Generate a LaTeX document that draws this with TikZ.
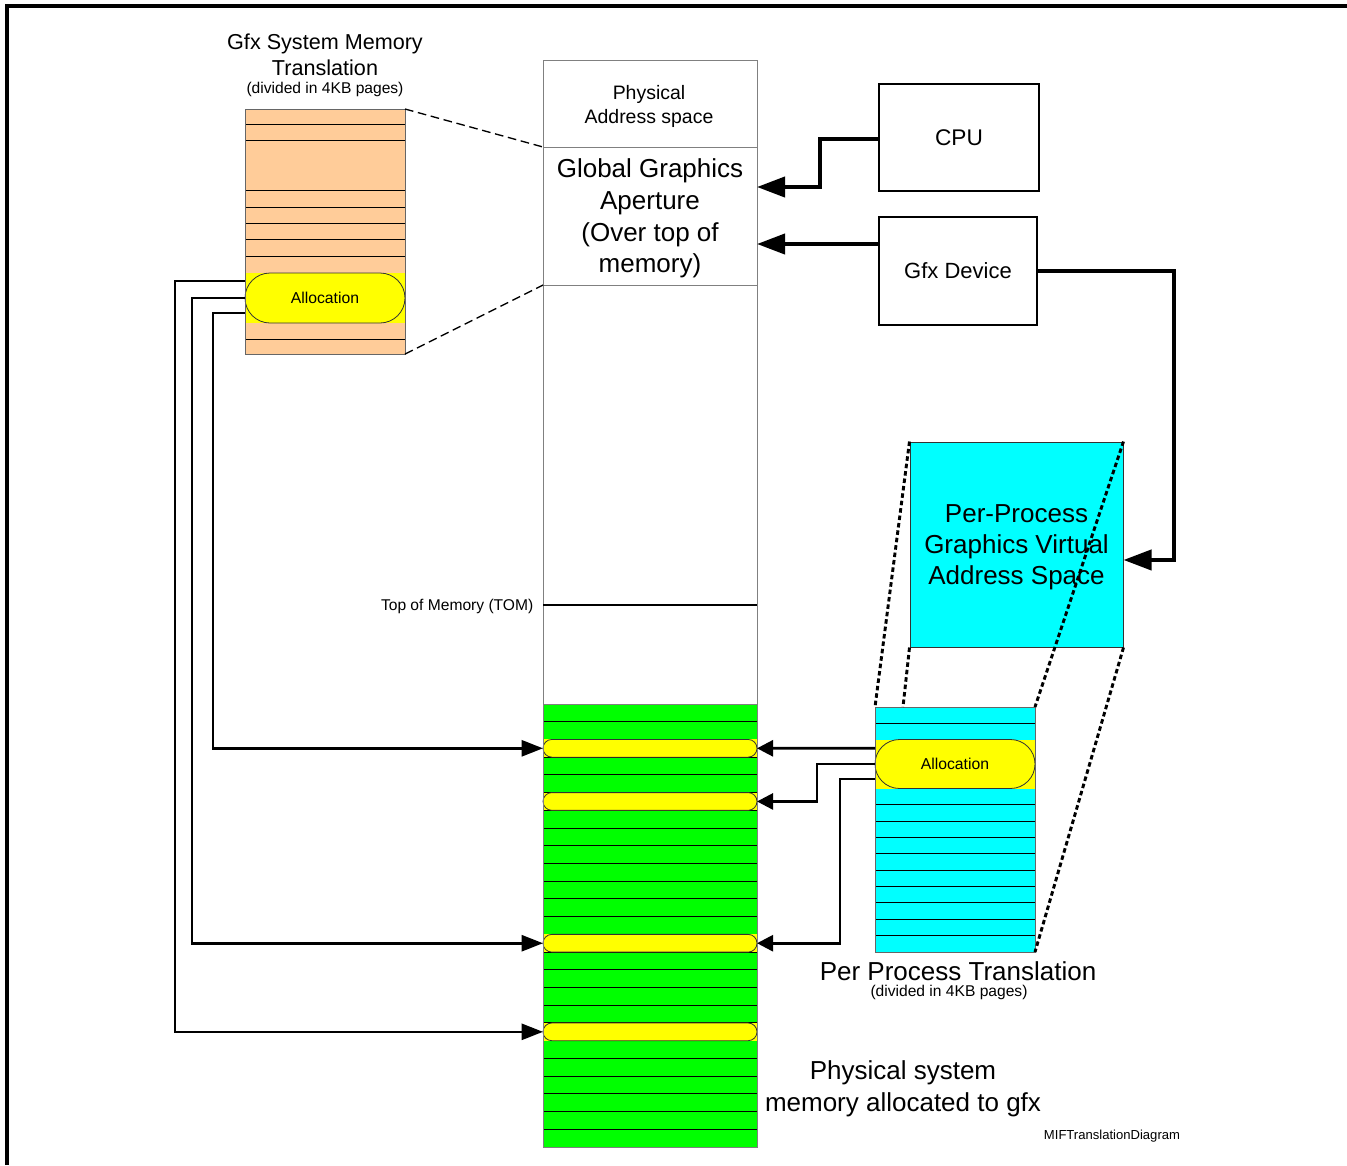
\documentclass[tikz,border=0pt]{standalone}
\usepackage{fontspec}
\setmainfont{Liberation Sans}
\usetikzlibrary{arrows.meta,shapes.misc}
\definecolor{ptepeach}{RGB}{255,204,153}
\definecolor{vacyan}{RGB}{0,255,255}
\definecolor{memgreen}{RGB}{0,255,0}
\definecolor{allocyellow}{RGB}{255,255,0}
\newcommand\pxu{0.75pt}
\begin{document}
\begin{tikzpicture}[x=0.75pt,y=-0.75pt,
  colbox/.style={draw=black!50, line width=0.75pt, inner sep=0pt, outer sep=0pt},
  rowline/.style={line width=0.75pt, draw=black},
  alloc/.style={rounded rectangle, draw=black!80, fill=allocyellow, line width=0.6pt,
    inner sep=0pt, outer sep=0pt, font=\fontsize{11.8}{14}\selectfont},
  devbox/.style={draw, line width=1.5pt, inner sep=0pt},
  bus/.style={line width=3pt, -{Triangle[length=21pt,width=15pt]}},
  map/.style={line width=2pt, -{Triangle[length=16pt,width=12pt]}},
  mapr/.style={line width=2pt, -{Triangle[length=12pt,width=12pt]}},
  span/.style={line width=1pt, dash pattern=on 6.5pt off 3.5pt},
  dotspan/.style={line width=2.2pt, dash pattern=on 3.4pt off 2.2pt},
  bigtxt/.style={font=\fontsize{19.5}{23.8}\selectfont, align=center},
  smalltxt/.style={font=\fontsize{11.7}{14}\selectfont}]
\useasboundingbox (0,0) rectangle (1347,1165);

% frame
\draw[line width=2.4pt] (7,1165) -- (7,6) -- (1347,6);

% GTT: system memory translation table
\node[bigtxt, font=\fontsize{16.2}{19.5}\selectfont] (gtitle) at (325,55) {Gfx System Memory\\Translation};
\node[smalltxt, inner sep=1pt] (gsub) at (325,89) {(divided in 4KB pages)};
\node[colbox, fill=ptepeach, minimum width=160*\pxu, minimum height=245*\pxu] (orng) at (325,231.5) {};
\foreach \y in {124,140,190,207,223,239,256,339}
  \draw[rowline] (245,\y) -- (405,\y);
\fill[allocyellow] (245,273) rectangle (405,323);
\node[alloc, minimum width=160*\pxu, minimum height=50*\pxu] (galloc) at (325,298) {Allocation};
\draw[draw=black!60, line width=0.75pt] (orng.north west) rectangle (orng.south east);

% physical address space column
\node[colbox, minimum width=214*\pxu, minimum height=87*\pxu] (phys) at (650,103.5) {};
\node[align=center, font=\fontsize{14.6}{18}\selectfont] (physt) at (649,106.5) {Physical\\Address space};
\node[colbox, minimum width=214*\pxu, minimum height=138*\pxu] (ggtt) at (650,216) {};
\node[bigtxt] (ggttt) at (650,218.5) {Global Graphics\\Aperture\\(Over top of\\memory)};
\node[colbox, minimum width=214*\pxu, minimum height=419*\pxu] (mem) at (650,494.5) {};
\node[colbox, fill=memgreen, minimum width=214*\pxu, minimum height=443*\pxu] (gmem) at (650,925.5) {};
\foreach \k in {1,...,24}
  \draw[rowline] ({543},{704+17.72*\k}) -- ({757},{704+17.72*\k});
\foreach \k in {2,5,13,18} {
  \fill[allocyellow] ({543},{704+17.72*\k}) rectangle ({757},{704+17.72*(\k+1)});
  \node[alloc, minimum width=214*\pxu, minimum height=17.72*\pxu] (pa\k) at ({650},{704+17.72*(\k+0.5)}) {};
}
\draw[draw=black!50, line width=0.75pt] (gmem.north west) rectangle (gmem.south east);

% top of memory
\coordinate (tomL) at (543,605);
\draw[line width=1.9pt] (tomL) -- (tomL -| mem.east);
\node[anchor=east, smalltxt] (toml) at (538,606) {Top of Memory (TOM)};

% devices
\node[devbox, minimum width=160*\pxu, minimum height=107*\pxu, font=\fontsize{17}{20}\selectfont] (cpu) at (959,137.5) {CPU};
\node[devbox, minimum width=158*\pxu, minimum height=108*\pxu, font=\fontsize{16.5}{20}\selectfont] (gfx) at (958,271) {Gfx Device};

% per-process virtual address space
\node[draw=black!80, line width=0.75pt, fill=vacyan, minimum width=213*\pxu, minimum height=205*\pxu] (vas) at (1016.5,544.5) {};
\node[bigtxt, font=\fontsize{19.5}{23.3}\selectfont] (vast) at (1016.5,547.5) {Per-Process\\Graphics Virtual\\Address Space};

% per-process translation table
\node[colbox, fill=vacyan, minimum width=160*\pxu, minimum height=245*\pxu] (ctr) at (955,829.5) {};
\foreach \k in {1,5,6,...,14}
  \draw[rowline] ({875},{707+16.33*\k}) -- ({1035},{707+16.33*\k});
\fill[allocyellow] (875,739.7) rectangle (1035,788.7);
\node[alloc, minimum width=160*\pxu, minimum height=49*\pxu] (calloc) at (955,764) {Allocation};
\draw[draw=black!60, line width=0.75pt] (ctr.north west) rectangle (ctr.south east);
\node[bigtxt, inner sep=0pt] (pptl) at (958,971) {Per Process Translation};
\node[smalltxt, inner sep=0pt] (ppsub) at (949,992) {(divided in 4KB pages)};

% zoom-out guides
\draw[span] (orng.north east) -- (ggtt.north west);
\draw[span] (orng.south east) -- (ggtt.south west);
\draw[dotspan] (vas.north west) -- (ctr.north west);
\draw[dotspan] (vas.south west) -- ([xshift=21pt]ctr.north west);
\draw[dotspan] (vas.north east) -- (ctr.north east);
\draw[dotspan] (vas.south east) -- (ctr.south east);

% bus connections
\draw[bus] ([yshift=-1.1pt]cpu.west) -- ++(-58,0) |- ([yshift=21.75pt]ggtt.east);
\draw[bus] ([yshift=20.25pt]gfx.west) -- ([yshift=-21pt]ggtt.east);
\draw[bus] (gfx.east) -- ++(136,0) |- ([yshift=-11.6pt]vas.east);

% page mappings
\draw[map] ([yshift=12.75pt]galloc.west) -- ++(-70,0) |- (pa18.west);
\draw[map] (galloc.west) -- ++(-53,0) |- (pa13.west);
\draw[map] ([yshift=-11.25pt]galloc.west) -- ++(-32,0) |- (pa2.west);
\draw[mapr] ([yshift=11.8pt]calloc.west) -- (pa2.east);
\draw[mapr] (calloc.west) -- ++(-58,0) |- (pa5.east);
\draw[mapr] ([yshift=-11.25pt]calloc.west) -- ++(-35,0) |- (pa13.east);

% captions
\node[bigtxt] (psys) at (903,1089) {Physical system\\memory allocated to gfx};
\node[font=\fontsize{9.8}{12}\selectfont] (tag) at (1112,1136) {MIFTranslationDiagram};
\end{tikzpicture}
\end{document}
